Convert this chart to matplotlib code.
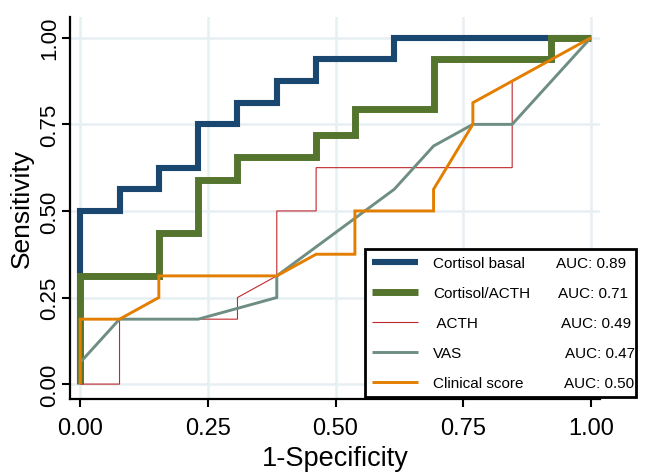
import matplotlib
matplotlib.use("Agg")
import matplotlib.pyplot as plt

plt.rcParams['font.family'] = ['Liberation Sans', 'DejaVu Sans']

# ---- data ----
names = ["Cortisol basal", "Cortisol/ACTH", " ACTH", "VAS", "Clinical score"]
auc_labels = ["AUC: 0.89", "AUC: 0.71", "AUC: 0.49", "AUC: 0.47", "AUC: 0.50"]

basal_fpr = [0, 0, 0.077, 0.077, 0.154, 0.154, 0.231, 0.231, 0.308, 0.308,
             0.385, 0.385, 0.462, 0.462, 0.615, 0.615, 1.0]
basal_tpr = [0, 0.5, 0.5, 0.5625, 0.5625, 0.625, 0.625, 0.75, 0.75, 0.8125,
             0.8125, 0.875, 0.875, 0.9375, 0.9375, 1.0, 1.0]

ratio_fpr = [0, 0, 0.154, 0.154, 0.231, 0.231, 0.308, 0.308, 0.462, 0.462,
             0.538, 0.538, 0.692, 0.692, 0.923, 0.923, 1.0]
ratio_tpr = [0, 0.3125, 0.3125, 0.4375, 0.4375, 0.59, 0.59, 0.655, 0.655, 0.72,
             0.72, 0.795, 0.795, 0.9375, 0.9375, 1.0, 1.0]

acth_fpr = [0, 0.077, 0.077, 0.308, 0.308, 0.385, 0.385, 0.462, 0.462, 0.846, 0.846, 1.0]
acth_tpr = [0, 0, 0.1875, 0.1875, 0.25, 0.3125, 0.5, 0.5, 0.625, 0.625, 0.875, 1.0]

vas_fpr = [0, 0, 0.077, 0.231, 0.385, 0.385, 0.615, 0.692, 0.769, 0.846, 1.0]
vas_tpr = [0, 0.0625, 0.1875, 0.1875, 0.25, 0.3125, 0.5625, 0.6875, 0.75, 0.75, 1.0]

clin_fpr = [0, 0, 0.077, 0.154, 0.154, 0.385, 0.462, 0.538, 0.538, 0.692, 0.692,
            0.769, 0.769, 1.0]
clin_tpr = [0, 0.1875, 0.1875, 0.25, 0.3125, 0.3125, 0.375, 0.375, 0.5, 0.5, 0.5625,
            0.75, 0.8125, 1.0]

ticks = [0.0, 0.25, 0.5, 0.75, 1.0]
tick_labels = ["0.00", "0.25", "0.50", "0.75", "1.00"]

# ---- figure ----
W, H = 652, 477
fig = plt.figure(figsize=(W / 100, H / 100), dpi=100)
ax = fig.add_axes([70 / W, 1 - 400 / H, (600 - 70) / W, (400 - 18) / H])

ax.set_xlim(-0.02, 1.018)
ax.set_ylim(-0.043, 1.06)

grid_c = '#e6eff2'
ax.set_xticks(ticks)
ax.set_yticks(ticks)
ax.grid(True, color=grid_c, linewidth=1.8, zorder=0)
ax.set_axisbelow(True)

series = [
    (basal_fpr, basal_tpr, '#1a476f', 4.4),
    (ratio_fpr, ratio_tpr, '#55752f', 5.0),
    (acth_fpr, acth_tpr, '#c0282d', 0.8),
    (vas_fpr, vas_tpr, '#6e8e84', 2.1),
    (clin_fpr, clin_tpr, '#e37e00', 2.1),
]
handles = []
for (xs, ys, c, lw), nm in zip(series, names):
    ln, = ax.plot(xs, ys, color=c, linewidth=lw, solid_joinstyle='miter',
                  solid_capstyle='butt', label=nm, zorder=3)
    handles.append(ln)

for s in ['top', 'right']:
    ax.spines[s].set_visible(False)
for s in ['left', 'bottom']:
    ax.spines[s].set_color('black')
    ax.spines[s].set_linewidth(1.6)

ax.set_xticklabels(tick_labels, fontsize=17)
ax.set_yticklabels(tick_labels, fontsize=16, rotation=90, va='center')
ax.tick_params(axis='both', direction='out', length=6, width=1.5, color='black')
ax.tick_params(axis='x', pad=7)
ax.tick_params(axis='y', pad=1)

ax.set_xlabel("1-Specificity", fontsize=19.5, labelpad=4)
ax.set_ylabel("Sensitivity", fontsize=19)
ax.yaxis.set_label_coords(-0.068, 0.5)

leg = ax.legend(handles=handles, labels=names, loc='upper left',
                bbox_to_anchor=(365 / W, 1 - 250 / H, (636 - 365) / W, 0.0),
                bbox_transform=fig.transFigure, mode='expand',
                fontsize=11, frameon=True, fancybox=False, shadow=False,
                framealpha=1, edgecolor='black', handlelength=3.0,
                handletextpad=1.0, labelspacing=1.05, borderpad=0.45,
                borderaxespad=0)
leg.get_frame().set_linewidth(2.0)
leg.set_zorder(10)

fig.canvas.draw()
auc_x = [556, 558, 561, 565, 564]
inv = fig.transFigure.inverted()
for t, lab, xp in zip(leg.get_texts(), auc_labels, auc_x):
    bb = t.get_window_extent()
    yc = (bb.y0 + bb.y1) / 2
    fx, fy = inv.transform((xp, yc))
    fig.text(fx, fy, lab, fontsize=11, va='center', ha='left', zorder=11)

fig.savefig("out.png", dpi=100)
